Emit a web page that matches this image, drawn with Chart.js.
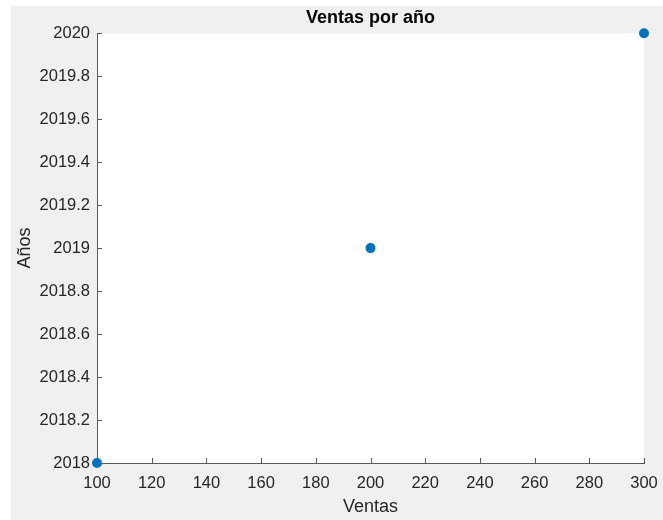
<!DOCTYPE html>
<html>
<head>
<meta charset="utf-8">
<script src="https://cdn.jsdelivr.net/npm/chart.js@4/dist/chart.umd.min.js"></script>
<style>
  html, body { margin: 0; padding: 0; background: #fff; }
  #wrap { width: 663px; height: 520px; }
</style>
</head>
<body>
<div id="wrap"><canvas id="ventasChart"></canvas></div>
<script>
const ventas = [100, 200, 300];
const anios = [2018, 2019, 2020];
const xTicks = [100, 120, 140, 160, 180, 200, 220, 240, 260, 280, 300];
const yTicks = [2018, 2018.2, 2018.4, 2018.6, 2018.8, 2019, 2019.2, 2019.4, 2019.6, 2019.8, 2020];

const FONT = "'Liberation Sans', Arial, Helvetica, sans-serif";
const TEXT = '#262626';
const AXIS = '#5a5a5a';

// grey figure background + white axes area, like a MATLAB figure
const figureBg = {
  id: 'figureBg',
  beforeDraw(chart) {
    const { ctx, chartArea } = chart;
    ctx.save();
    ctx.fillStyle = '#ffffff';
    ctx.fillRect(0, 0, chart.width, chart.height);
    ctx.fillStyle = '#f0f0f0';
    ctx.fillRect(11, 6, chart.width - 11, chart.height - 6);
    ctx.fillStyle = '#ffffff';
    ctx.fillRect(chartArea.left, chartArea.top, chartArea.right - chartArea.left, chartArea.bottom - chartArea.top);
    ctx.restore();
  }
};

// small tick marks pointing into the plot
const innerTicks = {
  id: 'innerTicks',
  beforeDatasetsDraw(chart) {
    const { ctx, chartArea, scales } = chart;
    const len = 5;
    ctx.save();
    ctx.strokeStyle = AXIS;
    ctx.lineWidth = 1;
    ctx.beginPath();
    scales.x.ticks.forEach((t, i) => {
      const px = Math.round(scales.x.getPixelForTick(i)) + 0.5;
      ctx.moveTo(px, chartArea.bottom);
      ctx.lineTo(px, chartArea.bottom - len);
    });
    scales.y.ticks.forEach((t, i) => {
      const py = Math.round(scales.y.getPixelForTick(i)) + 0.5;
      ctx.moveTo(chartArea.left, py);
      ctx.lineTo(chartArea.left + len, py);
    });
    ctx.stroke();
    ctx.restore();
  }
};

const ctx = document.getElementById('ventasChart').getContext('2d');
new Chart(ctx, {
  type: 'scatter',
  data: {
    datasets: [{
      label: 'Ventas',
      data: ventas.map((v, i) => ({ x: v, y: anios[i] })),
      backgroundColor: '#0072BD',
      borderColor: '#0072BD',
      pointRadius: 5,
      pointHoverRadius: 5,
      borderWidth: 0,
      clip: false
    }]
  },
  options: {
    responsive: true,
    maintainAspectRatio: false,
    animation: false,
    layout: { autoPadding: false, padding: { left: 0, right: 19, top: 0, bottom: 0 } },
    plugins: {
      legend: { display: false },
      tooltip: { enabled: false },
      title: {
        display: true,
        text: 'Ventas por año',
        fullSize: false,
        color: '#000',
        font: { family: FONT, size: 18, weight: 'bold' },
        padding: { top: 7, bottom: 4.6 }
      }
    },
    scales: {
      x: {
        type: 'linear',
        min: 100,
        max: 300,
        afterBuildTicks: scale => { scale.ticks = xTicks.map(v => ({ value: v })); },
        afterFit: scale => { scale.height = 57; scale.paddingLeft = 0; scale.paddingRight = 0; },
        grid: { display: false, drawTicks: false },
        border: { display: true, color: AXIS, width: 1 },
        ticks: {
          color: TEXT,
          font: { family: FONT, size: 16.5 },
          padding: 11,
          maxRotation: 0,
          autoSkip: false
        },
        title: {
          display: true,
          text: 'Ventas',
          color: TEXT,
          font: { family: FONT, size: 18 },
          padding: { top: 0, bottom: 2 }
        }
      },
      y: {
        type: 'linear',
        min: 2018,
        max: 2020,
        afterBuildTicks: scale => { scale.ticks = yTicks.map(v => ({ value: v })); },
        afterFit: scale => { scale.width = 97; scale.paddingTop = 0; scale.paddingBottom = 0; },
        grid: { display: false, drawTicks: false },
        border: { display: true, color: AXIS, width: 1 },
        ticks: {
          color: TEXT,
          font: { family: FONT, size: 16.5 },
          padding: 7,
          autoSkip: false,
          callback: v => String(Number(v.toFixed(1)))
        },
        title: {
          display: true,
          text: 'Años',
          color: TEXT,
          font: { family: FONT, size: 18 },
          padding: { top: 14, bottom: 0 }
        }
      }
    }
  },
  plugins: [figureBg, innerTicks]
});
</script>
</body>
</html>
